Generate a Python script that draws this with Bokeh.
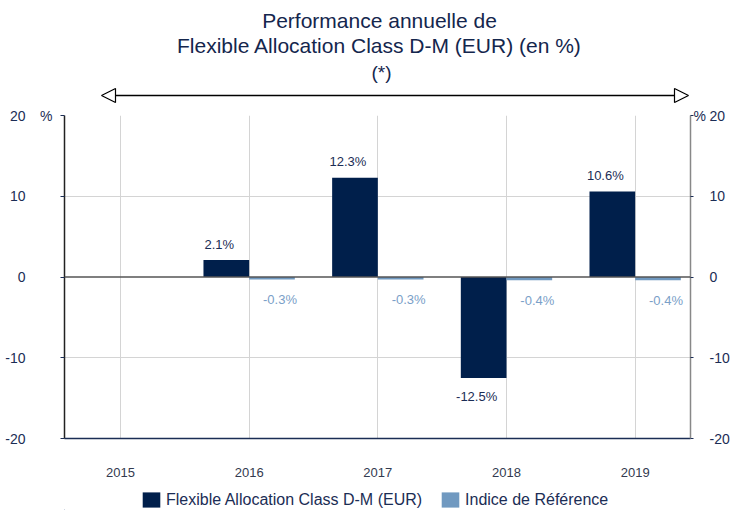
from bokeh.plotting import figure
from bokeh.layouts import column
from bokeh.models import (LinearAxis, FixedTicker, ColumnDataSource, Arrow, Range1d,
                          NormalHead, Legend, LegendItem, Span)
from bokeh.core.properties import value
from bokeh.embed import file_html
from bokeh.resources import INLINE

years = ["2015", "2016", "2017", "2018", "2019"]
fund = [None, 2.1, 12.3, -12.5, 10.6]
index = [None, -0.3, -0.3, -0.4, -0.4]
fund_name = "Flexible Allocation Class D-M (EUR)"
index_name = "Indice de Référence"
title1 = "Performance annuelle de"
title2 = "Flexible Allocation Class D-M (EUR) (en %)"
note = "(*)"
yticks = [-20, -10, 0, 10, 20]
unit = "%"

FONT = "Liberation Sans"
NAVY = "#001f4b"
LIGHT = "#7099c0"
TXT = "#1b2d55"
TITLE = "#14264d"

W = 734
BL, BR = 64, 44            # left / right borders shared by all three figures
H_TOP, H_LEG = 105, 28
H_MAIN = 510 - H_TOP - H_LEG

X0, X1 = -0.435, 4.43
xr = Range1d(X0, X1)
ppu_x = (W - BL - BR) / (X1 - X0)

def dx(px):
    return X0 + (px - BL) / ppu_x

# ---------------- top: titles and period arrow ----------------
top = figure(width=W, height=H_TOP, output_backend="svg", toolbar_location=None,
             x_range=xr, y_range=Range1d(H_TOP, 0), x_axis_type=None, y_axis_type=None,
             min_border_left=BL, min_border_right=BR, min_border_top=0, min_border_bottom=0)
top.outline_line_color = None
top.xgrid.visible = False
top.ygrid.visible = False
tsrc = ColumnDataSource(dict(x=[dx(379), dx(379), dx(381)], y=[20, 45, 72],
                             t=[title1, title2, note], fs=["21px", "21px", "19px"]))
top.text(x="x", y="y", text="t", text_font_size="fs", source=tsrc, text_align="center",
         text_baseline="middle", text_font=value(FONT), text_color=TITLE)
top.add_layout(Arrow(x_start=dx(101), y_start=95, x_end=dx(688), y_end=95,
                     start=NormalHead(size=14, fill_color="white", line_color="black", line_width=1.2),
                     end=NormalHead(size=14, fill_color="white", line_color="black", line_width=1.2),
                     line_color="black", line_width=1.5))

# ---------------- main chart ----------------
xs = list(range(len(years)))
bw = 0.355
fx, fy, ix, iy = [], [], [], []
for i, (f, r) in enumerate(zip(fund, index)):
    if f is not None:
        fx.append(i - bw / 2)
        fy.append(f)
    if r is not None:
        ix.append(i + bw / 2)
        iy.append(r)

p = figure(width=W, height=H_MAIN, output_backend="svg", toolbar_location=None,
           x_range=xr, y_range=(yticks[0], yticks[-1]),
           min_border_left=BL, min_border_right=BR, min_border_top=10, min_border_bottom=44)
p.outline_line_color = None

fsrc = ColumnDataSource(dict(x=fx, top=fy, lab=[f"{v:.1f}%" for v in fy],
                             off=[-16 if v >= 0 else 19 for v in fy]))
isrc = ColumnDataSource(dict(x=ix, top=iy, lab=[f"{v:.1f}%" for v in iy],
                             off=[-16 if v >= 0 else 20 for v in iy]))
p.vbar(x="x", top="top", bottom=0, width=bw, source=fsrc, fill_color=NAVY, line_color=None)
p.vbar(x="x", top="top", bottom=0, width=bw, source=isrc, fill_color=LIGHT, line_color=None)

p.add_layout(Span(location=0, dimension="width", line_color="#555555", line_width=1.5))

p.text(x="x", y="top", text="lab", y_offset="off", x_offset=-7, source=fsrc, text_align="center",
       text_baseline="middle", text_font=value(FONT), text_font_size="13px", text_color=TXT)
p.text(x="x", y="top", text="lab", y_offset="off", x_offset=8, source=isrc, text_align="center",
       text_baseline="middle", text_font=value(FONT), text_font_size="13px", text_color="#7aa0c8")

p.xaxis.ticker = FixedTicker(ticks=xs)
p.xaxis.major_label_overrides = {i: y for i, y in enumerate(years)}
p.xaxis.major_tick_line_color = None
p.xaxis.major_tick_out = 0
p.xaxis.minor_tick_line_color = None
p.xaxis.axis_line_color = "#1b2d55"
p.xaxis.axis_line_width = 1.5
p.xaxis.major_label_standoff = 29
p.xaxis.major_label_text_font = FONT
p.xaxis.major_label_text_font_size = "13px"
p.xaxis.major_label_text_color = "#333a4f"

num_labels = {t: str(t) for t in yticks}
unit_labels = {t: (unit if t == yticks[-1] else "") for t in yticks}

def style_axis(ax, labels, standoff, line_color, tick_out):
    ax.ticker = FixedTicker(ticks=yticks)
    ax.major_label_overrides = labels
    ax.minor_tick_line_color = None
    ax.major_tick_in = 0
    ax.major_tick_out = tick_out
    ax.major_tick_line_color = TXT if tick_out else None
    ax.axis_line_color = line_color
    ax.axis_line_width = 1.5
    ax.major_label_standoff = standoff
    ax.major_label_text_font = FONT
    ax.major_label_text_font_size = "14px"
    ax.major_label_text_color = TXT

style_axis(p.yaxis[0], unit_labels, 8, "#222222", 4)
left_nums = LinearAxis()
style_axis(left_nums, num_labels, 12, None, 0)
p.add_layout(left_nums, "left")

right_unit = LinearAxis()
style_axis(right_unit, unit_labels, 0, "#888888", 3)
p.add_layout(right_unit, "right")
right_nums = LinearAxis()
style_axis(right_nums, num_labels, 1, None, 0)
p.add_layout(right_nums, "right")

p.xgrid.ticker = FixedTicker(ticks=xs)
p.xgrid.grid_line_color = "#d4d4d4"
p.ygrid.ticker = FixedTicker(ticks=[-10, 10, 20])
p.ygrid.grid_line_color = "#d4d4d4"

# ---------------- legend strip ----------------
leg = figure(width=W, height=H_LEG, output_backend="svg", toolbar_location=None,
             x_range=xr, y_range=Range1d(0, H_LEG), x_axis_type=None, y_axis_type=None,
             min_border_left=BL, min_border_right=BR, min_border_top=0, min_border_bottom=0)
leg.outline_line_color = None
leg.xgrid.visible = False
leg.ygrid.visible = False
# off-screen proxies, used only to give the legend its swatches
g1 = leg.vbar(x=[X0 - 10], top=[1], width=0.1, fill_color=NAVY, line_color=None)
g2 = leg.vbar(x=[X0 - 10], top=[1], width=0.1, fill_color=LIGHT, line_color=None)
legend = Legend(items=[LegendItem(label=fund_name, renderers=[g1]),
                       LegendItem(label=index_name, renderers=[g2])],
                orientation="horizontal", location=(140 - BL, 1),
                glyph_width=22, glyph_height=19, label_standoff=4, spacing=17,
                margin=0, padding=0, border_line_color=None, background_fill_alpha=0,
                label_text_font=FONT, label_text_font_size="16px", label_text_color=TXT,
                label_height=19)
leg.add_layout(legend, "center")

layout = column(top, p, leg, spacing=0)
open("out.html", "w").write(file_html(layout, INLINE))
